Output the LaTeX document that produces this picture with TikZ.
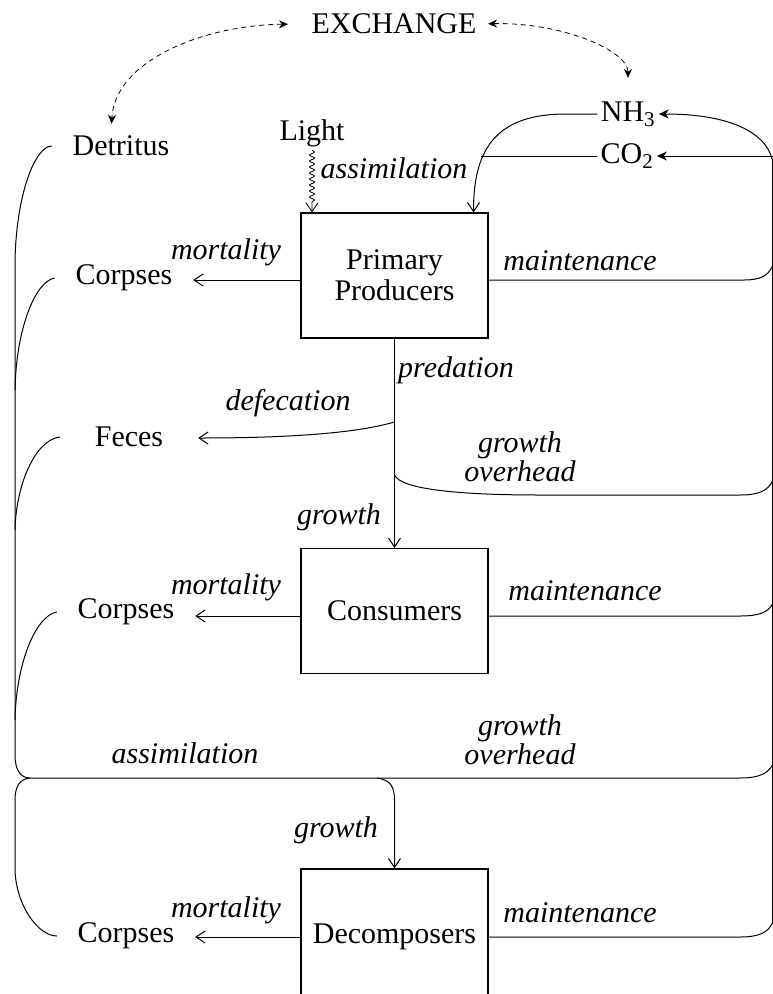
\documentclass[tikz,border=0pt]{standalone}
\usepackage{fontspec}
\setmainfont{Liberation Serif}
\usetikzlibrary{arrows.meta, positioning, decorations.pathmorphing}
\tikzset{
  compartment/.style={rectangle,draw,line width=1.2pt,minimum width=187pt,minimum height=125pt,
    align=center,inner sep=3pt},
  pool/.style={inner sep=2pt,minimum width=138pt},
  rate/.style={font=\fontsize{30}{29}\selectfont\itshape,inner sep=0pt,align=center},
  flow/.style={-{Straight Barb[length=9pt,width=12pt]},line width=1pt},
  link/.style={line width=1pt},
  feed/.style={-{Stealth[length=10pt,width=9pt,inset=3pt]},line width=1pt},
  xchg/.style={{Stealth[length=9pt,width=8pt]}-{Stealth[length=9pt,width=8pt]},
    dash pattern=on 5pt off 4pt,line width=0.8pt},
  photon/.style={-{Straight Barb[length=9pt,width=12pt]},line width=0.8pt,
    decorate,decoration={snake,amplitude=2.5pt,segment length=6pt,post length=10pt}}
}
\begin{document}
\begin{tikzpicture}[x=1pt,y=-1pt,font=\fontsize{30}{31}\selectfont]
  \useasboundingbox (0,0) rectangle (773,994);

  % compartments
  \node[compartment] (prod) at (394.5,275.5) {Primary\\Producers};
  \node[compartment] (cons) at (394.5,611) {Consumers};
  \node[compartment,minimum height=136pt] (decomp) at (394.5,937) {Decomposers};

  % pools
  \node (exch) at (394,24) {EXCHANGE};
  \node[pool] (detr) at (121,146) {Detritus};
  \node (nh3) at (628,114) {NH\textsubscript{3}};
  \node (co2) at (627,156) {CO\textsubscript{2}};
  \node (light) at (312,133) {Light};
  \node[pool] (corpP) at (124,278) {Corpses};
  \node[pool] (feces) at (129,437) {Feces};
  \node[pool] (corpC) at (126,612) {Corpses};
  \node[pool] (corpD) at (126,936) {Corpses};

  % rates
  \node[rate] (assimP) at (394,168) {assimilation};
  \node[rate] (mortP) at (226,252) {mortality};
  \node[rate] (maintP) at (580,261) {maintenance};
  \node[rate] (pred) at (456,370) {predation};
  \node[rate] (defec) at (288,403) {defecation};
  \node[rate] (overP) at (520,457) {growth\\overhead};
  \node[rate] (growC) at (339,517) {growth};
  \node[rate] (mortC) at (226,587) {mortality};
  \node[rate] (maintC) at (585,591) {maintenance};
  \node[rate] (assimD) at (185,753) {assimilation};
  \node[rate] (overC) at (520,740) {growth\\overhead};
  \node[rate] (growD) at (336,830) {growth};
  \node[rate] (mortD) at (226,910) {mortality};
  \node[rate] (maintD) at (580,913) {maintenance};

  % bus points
  \coordinate (busT) at (772.5,160);
  \coordinate (busB) at (772.5,923);
  \coordinate (cojoin) at (481,156);
  \coordinate (pj1) at (prod.south |- 0,422);
  \coordinate (pj2) at (prod.south |- 0,475);
  \coordinate (lbT) at (15,262);
  \coordinate (lbB) at (15,755);
  \coordinate (dj) at (30,778);

  % exchange
  \draw[xchg,shorten <=20pt,shorten >=10pt] (exch.west) .. controls (205,25) and (115,60) .. ([xshift=-10pt]detr.north);
  \draw[xchg,shorten <=8pt,shorten >=20pt] (exch.east) .. controls (560,22) and (628,50) .. (nh3.north);

  % light and nutrients
  \draw[photon] (light.south) -- (light.south |- prod.north);
  \draw[flow] (nh3.west) -- (566,114) .. controls (500,114) and (473,145) .. ([xshift=-15pt]prod.north east);
  \draw[link] (co2.west) -- (cojoin);
  \draw[link] (busT) -- (busB);
  \draw[feed] (busT) .. controls (765,130) and (725,114) .. (nh3.east);
  \draw[feed] (busT |- co2.east) -- (co2.east);

  % primary producers
  \draw[flow] (prod.west |- 0,280) -- (corpP.east |- 0,280);
  \draw[link] (prod.east |- 0,280) -- (744,280) .. controls (760,280) and (768,276) .. (772.5,266);
  \draw[flow] (prod.south) -- (cons.north);
  \draw[flow] (pj1) .. controls (360,432) and (300,438) .. (feces.east |- 0,438);
  \draw[link] (pj2) .. controls (400,488) and (450,495) .. (540,495) -- (740,495)
    .. controls (760,495) and (768,490) .. (772.5,481);

  % consumers
  \draw[flow] (cons.west |- 0,616) -- (corpC.east |- 0,616);
  \draw[link] (cons.east |- 0,616) -- (740,616) .. controls (760,616) and (768,612) .. (772.5,604);

  % detritus collection
  \draw[link] (detr.west) .. controls (35,146) and (16,195) .. (lbT) -- (lbB)
    .. controls (15,772) and (22,778) .. (dj) -- (740,778)
    .. controls (760,778) and (768,773) .. (772.5,765);
  \draw[link] (corpP.west) .. controls (35,281) and (16,330) .. (15,390);
  \draw[link] (feces.west) .. controls (35,440) and (16,485) .. (15,530);
  \draw[link] (corpC.west) .. controls (35,616) and (16,665) .. (15,720);
  \draw[link] (dj) .. controls (20,779) and (15,786) .. (15,800) -- (15,870)
    .. controls (16,905) and (38,936) .. (corpD.west);

  % decomposers
  \draw[flow] (377,778) .. controls (390,780) and (394.5,786) .. (394.5,800) -- (decomp.north);
  \draw[flow] (decomp.west |- 0,937) -- (corpD.east |- 0,937);
  \draw[link] (decomp.east |- 0,937) -- (740,937) .. controls (760,937) and (768,932) .. (busB);
\end{tikzpicture}
\end{document}
